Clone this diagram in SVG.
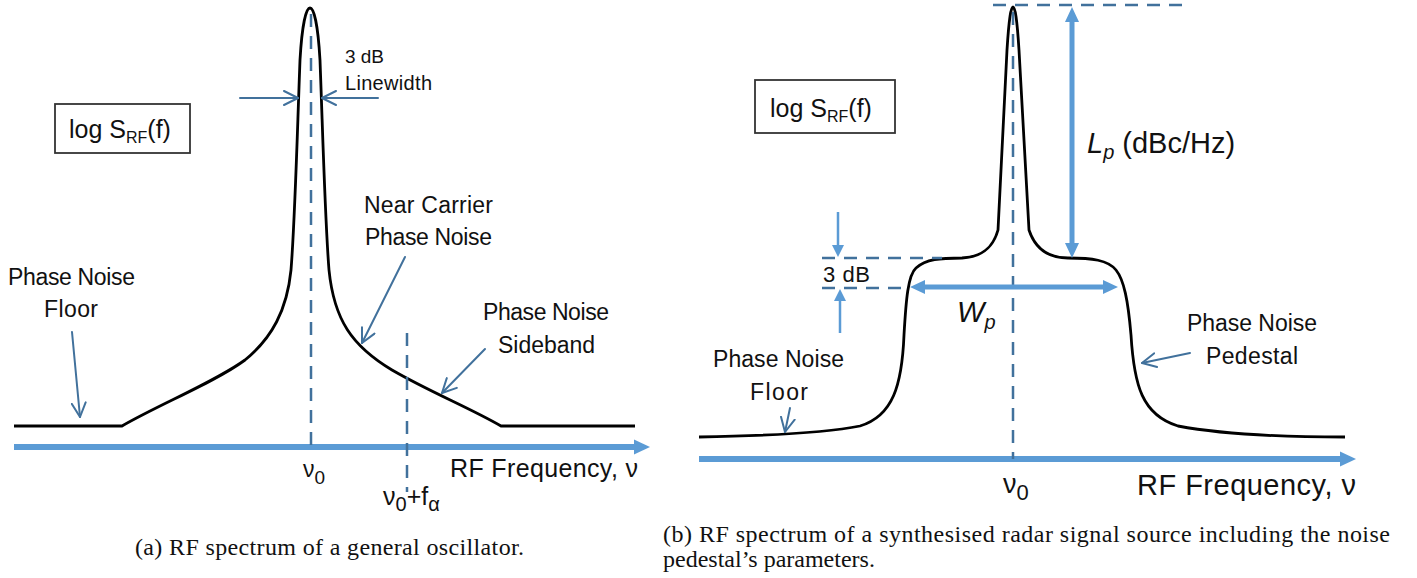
<svg xmlns="http://www.w3.org/2000/svg" width="1417" height="578" viewBox="0 0 1417 578">
<style>
.lbl{font-family:"Liberation Sans",Arial,sans-serif;fill:#111}
.cap{font-family:"Liberation Serif","Times New Roman",serif;fill:#111;font-size:24px}
.curve{fill:none;stroke:#000;stroke-width:2.8;stroke-linejoin:round}
.axis{stroke:#5B9BD5;stroke-width:6;fill:none}
.dash{stroke:#41719C;stroke-width:2.5;stroke-dasharray:13 9;fill:none}
.thin{stroke:#41719C;stroke-width:2;fill:none;stroke-linecap:round}
.thick{stroke:#5B9BD5;stroke-width:5;fill:none}
.small{stroke:#5B9BD5;stroke-width:2.5;fill:none}
.box{fill:#fff;stroke:#333;stroke-width:1.8}
</style>
<defs>
<marker id="chev" viewBox="0 0 16 16" refX="15" refY="8" markerWidth="16" markerHeight="16" markerUnits="userSpaceOnUse" orient="auto">
<path d="M1,1 L15,8 L1,15" fill="none" stroke="#41719C" stroke-width="2" stroke-linecap="round" stroke-linejoin="round"/>
</marker>
<marker id="axhead" viewBox="0 0 16 16" refX="2" refY="8" markerWidth="16" markerHeight="16" markerUnits="userSpaceOnUse" orient="auto">
<path d="M0,0.5 L16,8 L0,15.5 Z" fill="#5B9BD5"/>
</marker>
<marker id="bighead" viewBox="0 0 15 14" refX="2" refY="7" markerWidth="15" markerHeight="14" markerUnits="userSpaceOnUse" orient="auto-start-reverse">
<path d="M0,0 L15,7 L0,14 Z" fill="#5B9BD5"/>
</marker>
<marker id="smallhead" viewBox="0 0 12 12" refX="2" refY="6" markerWidth="12" markerHeight="12" markerUnits="userSpaceOnUse" orient="auto">
<path d="M0,0 L12,6 L0,12 Z" fill="#5B9BD5"/>
</marker>
</defs>

<!-- ===== Panel (a) ===== -->
<g id="a-curve">
<path class="curve" d="M14 426 L122 426 C160 404, 215 382, 245 360 C272 338, 287 310, 291 270 C295 220, 297 140, 300 60 C302 25, 306 8, 310 8 C314 8, 318 25, 320 60 C323 140, 325 220, 329 270 C334 320, 352 346, 392 370 C430 392, 470 408, 501 426 L635 426"/>
</g>
<g id="a-box">
<rect class="box" x="55" y="104" width="135" height="49"/>
<text class="lbl" x="69" y="138" font-size="25">log S<tspan font-size="16" dy="5">RF</tspan><tspan dy="-5">(f)</tspan></text>
</g>
<g id="a-linewidth-label">
<text class="lbl" x="345" y="63" font-size="19" textLength="39">3 dB</text>
<text class="lbl" x="345" y="90" font-size="20" textLength="87">Linewidth</text>
</g>
<g id="a-near-carrier">
<text class="lbl" x="364" y="213" font-size="23" textLength="129">Near Carrier</text>
<text class="lbl" x="365" y="245" font-size="23" textLength="127">Phase Noise</text>
</g>
<g id="a-floor">
<text class="lbl" x="8" y="285" font-size="23" textLength="127">Phase Noise</text>
<text class="lbl" x="44" y="317" font-size="23" textLength="54">Floor</text>
</g>
<g id="a-sideband">
<text class="lbl" x="483" y="320" font-size="23" textLength="126">Phase Noise</text>
<text class="lbl" x="498" y="353" font-size="23" textLength="97">Sideband</text>
</g>
<g id="a-axis-labels">
<text class="lbl" x="303" y="477" font-size="23">ν<tspan font-size="19" dy="7">0</tspan></text>
<text class="lbl" x="383" y="505" font-size="25">ν<tspan font-size="20" dy="6">0</tspan><tspan dy="-6">+f</tspan><tspan font-size="20" dy="6">α</tspan></text>
<text class="lbl" x="450" y="477" font-size="25" textLength="188">RF Frequency, ν</text>
</g>
<text class="cap" x="135" y="555" textLength="389">(a) RF spectrum of a general oscillator.</text>

<!-- ===== Panel (b) ===== -->
<g id="b-curve">
<path class="curve" d="M699 437 C760 436, 820 434, 860 426 C893 416, 902 385, 904 335 C906 300, 908 275, 916 268 C926 259, 940 258, 962 258 C982 257, 993 248, 998 230 L1007 50 C1009 18, 1011 7, 1013 7 C1015 7, 1017 18, 1019 50 L1029 230 C1035 248, 1048 258, 1068 258 C1092 258, 1108 260, 1116 270 C1124 280, 1128 300, 1131 335 C1134 385, 1142 415, 1178 426 C1220 434, 1280 437, 1345 437"/>
</g>
<g id="b-box">
<rect class="box" x="755" y="80" width="140" height="53"/>
<text class="lbl" x="770" y="117" font-size="25">log S<tspan font-size="16" dy="5">RF</tspan><tspan dy="-5">(f)</tspan></text>
</g>
<g id="b-lp-label">
<text class="lbl" x="1087" y="153" font-size="29"><tspan font-style="italic">L</tspan><tspan font-style="italic" font-size="20" dy="6">p</tspan><tspan dy="-6"> (dBc/Hz)</tspan></text>
</g>
<g id="b-3db-label">
<text class="lbl" x="823" y="282" font-size="22" textLength="47">3 dB</text>
</g>
<g id="b-wp-label">
<text class="lbl" x="957" y="322" font-size="29" font-style="italic">W<tspan font-size="20" dy="7">p</tspan></text>
</g>
<g id="b-pedestal">
<text class="lbl" x="1187" y="331" font-size="23" textLength="130">Phase Noise</text>
<text class="lbl" x="1206" y="364" font-size="23" textLength="92">Pedestal</text>
</g>
<g id="b-floor">
<text class="lbl" x="713" y="367" font-size="23" textLength="131">Phase Noise</text>
<text class="lbl" x="750" y="400" font-size="23" textLength="58">Floor</text>
</g>
<g id="b-axis-labels">
<text class="lbl" x="1003" y="493" font-size="27">ν<tspan font-size="22" dy="7">0</tspan></text>
<text class="lbl" x="1137" y="495" font-size="29" textLength="219">RF Frequency, ν</text>
</g>
<text class="cap" x="663" y="542" font-size="23" textLength="727" lengthAdjust="spacing">(b) RF spectrum of a synthesised radar signal source including the noise</text>
<text class="cap" x="663" y="567" font-size="23">pedestal’s parameters.</text>

<!-- ===== Connectors ===== -->
<g id="connectors">
<line class="axis" x1="14" y1="447" x2="636" y2="447" marker-end="url(#axhead)"/>
<line class="dash" x1="311" y1="14" x2="311" y2="447"/>
<line class="dash" x1="407" y1="333" x2="407" y2="492"/>
<line class="thin" x1="240" y1="98" x2="298" y2="98" marker-end="url(#chev)"/>
<line class="thin" x1="378" y1="98" x2="322" y2="98" marker-end="url(#chev)"/>
<line class="thin" x1="405" y1="257" x2="362" y2="343" marker-end="url(#chev)"/>
<line class="thin" x1="485" y1="349" x2="442" y2="393" marker-end="url(#chev)"/>
<line class="thin" x1="72" y1="332" x2="80" y2="417" marker-end="url(#chev)"/>

<line class="axis" x1="699" y1="459" x2="1342" y2="459" marker-end="url(#axhead)"/>
<line class="dash" x1="1013" y1="12" x2="1013" y2="459"/>
<line class="dash" x1="993" y1="5" x2="1185" y2="5"/>
<line class="dash" x1="822" y1="258" x2="942" y2="258"/>
<line class="dash" x1="822" y1="288" x2="902" y2="288"/>
<line class="thick" x1="1072" y1="20" x2="1072" y2="245" marker-start="url(#bighead)" marker-end="url(#bighead)"/>
<line class="thick" x1="923" y1="287" x2="1105" y2="287" marker-start="url(#bighead)" marker-end="url(#bighead)"/>
<line class="small" x1="838" y1="212" x2="838" y2="247" marker-end="url(#smallhead)"/>
<line class="small" x1="840" y1="333" x2="840" y2="299" marker-end="url(#smallhead)"/>
<line class="thin" x1="790" y1="408" x2="785" y2="432" marker-end="url(#chev)"/>
<line class="thin" x1="1190" y1="353" x2="1142" y2="363" marker-end="url(#chev)"/>
</g>
</svg>
